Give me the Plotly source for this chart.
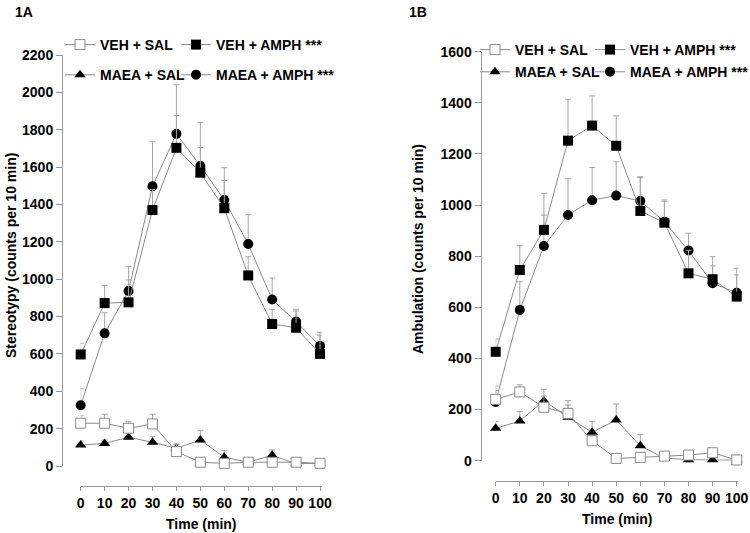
import plotly.graph_objects as go

W, H = 750, 533

def fx(px):
    return px / W

def fy(py):
    return 1 - py / H

# ---------------- data ----------------
time_min = [0, 10, 20, 30, 40, 50, 60, 70, 80, 90, 100]
x_ticks = [0, 10, 20, 30, 40, 50, 60, 70, 80, 90, 100]
y_ticks_A = [0, 200, 400, 600, 800, 1000, 1200, 1400, 1600, 1800, 2000, 2200]
y_ticks_B = [0, 200, 400, 600, 800, 1000, 1200, 1400, 1600]

series_names = ["VEH + SAL", "VEH + AMPH ***", "MAEA + SAL", "MAEA + AMPH ***"]

# Panel 1A - Stereotypy
veh_sal_A = [229, 229, 202, 225, 77, 20, 14, 20, 20, 20, 14]
veh_sal_A_err = [40, 48, 35, 52, 41, 6, 6, 5, 5, 5, 4]
veh_amph_A = [597, 872, 876, 1370, 1703, 1570, 1380, 1020, 760, 740, 600]
veh_amph_A_err = [60, 95, 120, 110, 173, 135, 148, 100, 78, 90, 100]
maea_sal_A = [112, 121, 154, 127, 95, 139, 47, 20, 57, 12, 15]
maea_sal_A_err = [22, 18, 26, 30, 20, 50, 35, 6, 29, 5, 4]
maea_amph_A = [325, 710, 937, 1497, 1778, 1606, 1424, 1188, 891, 773, 643]
maea_amph_A_err = [88, 110, 132, 238, 262, 232, 173, 157, 115, 66, 73]

# Panel 1B - Ambulation
veh_sal_B = [240, 269, 209, 185, 78, 9, 13, 18, 22, 31, 3]
veh_sal_B_err = [52, 28, 44, 50, 20, 4, 4, 4, 4, 8, 3]
veh_amph_B = [426, 746, 903, 1252, 1311, 1232, 977, 931, 733, 710, 642]
veh_amph_B_err = [50, 95, 143, 162, 116, 117, 130, 89, 90, 88, 111]
maea_sal_B = [127, 155, 235, 170, 111, 159, 58, 10, 4, 4, 2]
maea_sal_B_err = [26, 37, 44, 48, 42, 63, 45, 4, 3, 3, 2]
maea_amph_B = [230, 590, 840, 961, 1019, 1037, 1016, 935, 822, 694, 657]
maea_amph_B_err = [44, 110, 121, 142, 128, 132, 95, 80, 68, 68, 70]

# ---------------- styling ----------------
FONT = "Liberation Sans, Arial, sans-serif"
LINE_C = "#8a8a8a"
ERR_C = "#a6a6a6"
AXIS_C = "#9a9a9a"

styles = {
    "VEH + SAL": dict(symbol="square", size=10, color="white", line=dict(color="#8a8a8a", width=1)),
    "VEH + AMPH ***": dict(symbol="square", size=10, color="black", line=dict(width=0)),
    "MAEA + SAL": dict(symbol="triangle-up", size=10, color="black", line=dict(width=0)),
    "MAEA + AMPH ***": dict(symbol="circle", size=10, color="black", line=dict(width=0)),
}
rank = {"VEH + SAL": 1, "VEH + AMPH ***": 1, "MAEA + SAL": 2, "MAEA + AMPH ***": 2}

fig = go.Figure()

def add(name, y, err, xa, ya, legend):
    fig.add_trace(go.Scatter(
        x=time_min, y=y, name=name, mode="lines+markers",
        xaxis=xa, yaxis=ya, legend=legend, legendgroup=legend + name,
        legendrank=rank[name], cliponaxis=False,
        line=dict(color=LINE_C, width=1),
        marker=styles[name],
        error_y=dict(type="data", symmetric=False, array=err,
                     arrayminus=[0] * len(err), color=ERR_C, thickness=1, width=3),
    ))

# drawing order: circles, filled squares, triangles, open squares on top
add("MAEA + AMPH ***", maea_amph_A, maea_amph_A_err, "x", "y", "legend2")
add("VEH + AMPH ***", veh_amph_A, veh_amph_A_err, "x", "y", "legend2")
add("MAEA + SAL", maea_sal_A, maea_sal_A_err, "x", "y", "legend")
add("VEH + SAL", veh_sal_A, veh_sal_A_err, "x", "y", "legend")

add("MAEA + AMPH ***", maea_amph_B, maea_amph_B_err, "x2", "y2", "legend4")
add("VEH + AMPH ***", veh_amph_B, veh_amph_B_err, "x2", "y2", "legend4")
add("MAEA + SAL", maea_sal_B, maea_sal_B_err, "x2", "y2", "legend3")
add("VEH + SAL", veh_sal_B, veh_sal_B_err, "x2", "y2", "legend3")

tickfont = dict(family=FONT, size=14, color="black", weight="bold")

def xaxis(domain, pos):
    return dict(domain=domain, range=[0, 100.7], anchor="free", position=pos,
                tickvals=x_ticks, ticktext=[str(v) for v in x_ticks],
                showline=True, linecolor=AXIS_C, linewidth=1,
                ticks="outside", ticklen=4, tickcolor=AXIS_C,
                showgrid=False, zeroline=False, tickfont=tickfont)

def yaxis(domain, rng, ticks, pos):
    return dict(domain=domain, range=rng, anchor="free", position=pos,
                tickvals=ticks, ticktext=[str(v) for v in ticks],
                showline=True, linecolor=AXIS_C, linewidth=1,
                ticks="outside", ticklen=6, tickcolor=AXIS_C,
                showgrid=False, zeroline=False, tickfont=tickfont)

legfont = dict(family=FONT, size=14, color="black", weight="bold")

def leg(x, y, gap):
    return dict(x=x, y=y, xanchor="left", yanchor="top", bgcolor="rgba(0,0,0,0)",
                borderwidth=0, font=legfont, tracegroupgap=gap, traceorder="grouped",
                itemwidth=30)

fig.update_layout(
    width=W, height=H,
    margin=dict(l=0, r=0, t=0, b=0, autoexpand=False),
    paper_bgcolor="white", plot_bgcolor="white",
    showlegend=True,
    xaxis=xaxis([fx(80.7), fx(321.7)], fy(486)),
    yaxis=yaxis([fy(466), fy(55)], [0, 2200], y_ticks_A, fx(62)),
    xaxis2=xaxis([fx(495.7), fx(738.4)], fy(480.7)),
    yaxis2=yaxis([fy(460.7), fy(51.7)], [0, 1600], y_ticks_B, fx(480.5)),
    legend=leg(fx(60), fy(29), 9),
    legend2=leg(fx(176), fy(29), 9),
    legend3=leg(fx(475), fy(34), 1),
    legend4=leg(fx(590), fy(34), 1),
)

ann_font = dict(family=FONT, size=14, color="black", weight="bold")
annotations = [
    dict(text="1A", x=fx(24), y=fy(12)),
    dict(text="1B", x=fx(418), y=fy(12)),
    dict(text="Time (min)", x=fx(201), y=fy(524)),
    dict(text="Time (min)", x=fx(617), y=fy(519)),
    dict(text="Stereotypy (counts per 10 min)", x=fx(11), y=fy(256), textangle=-90),
    dict(text="Ambulation (counts per 10 min)", x=fx(418), y=fy(249), textangle=-90),
]
for a in annotations:
    fig.add_annotation(xref="paper", yref="paper", showarrow=False,
                       xanchor="center", yanchor="middle", font=ann_font, **a)

fig.write_html("out.html",
               config={"displayModeBar": False},
               post_script="document.body.style.margin='0';document.body.style.overflow='hidden';")
